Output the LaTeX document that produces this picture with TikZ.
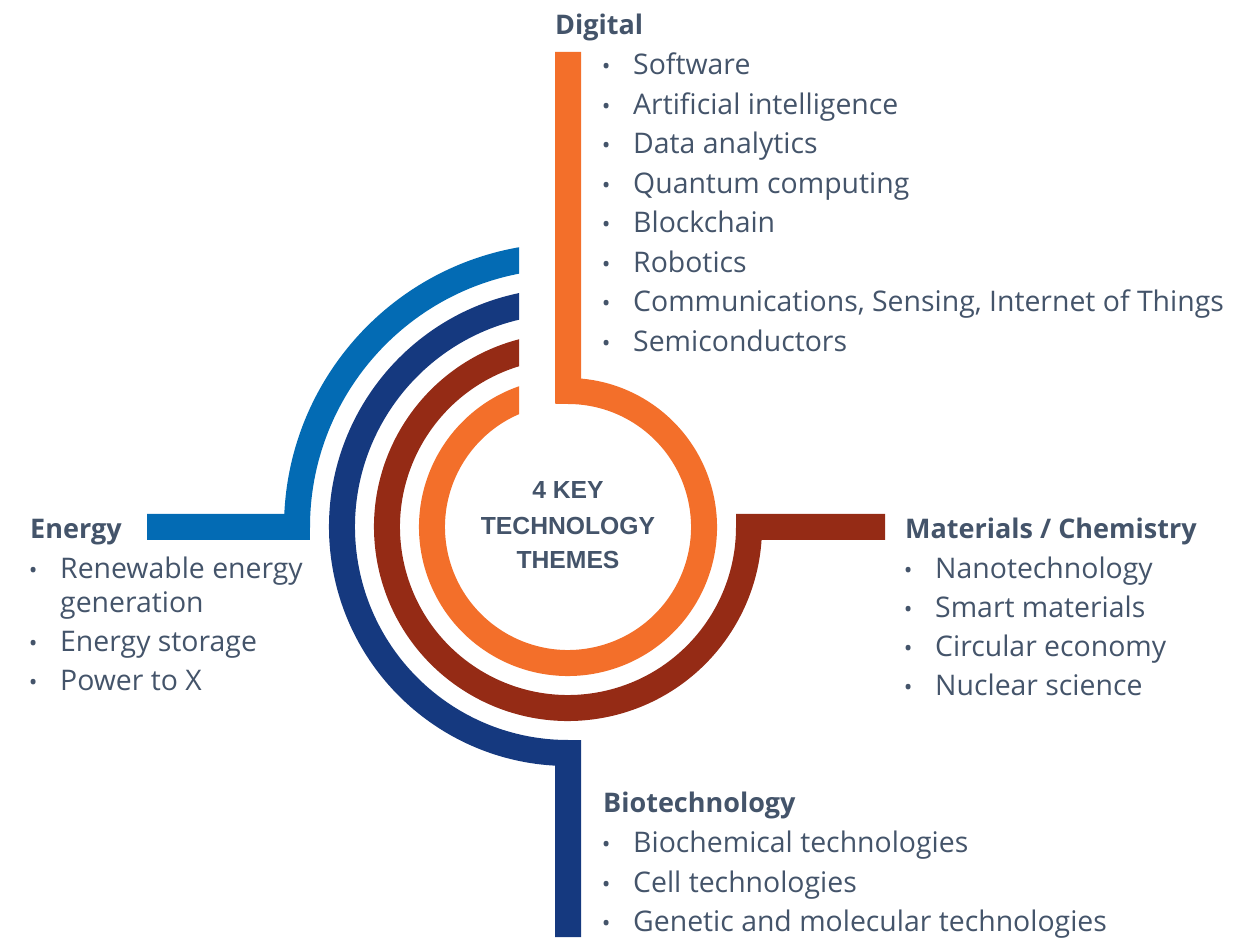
\documentclass[tikz,border=0pt]{standalone}
\usepackage{fontspec}
\setmainfont{Open Sans}
\newfontfamily\themefont{Liberation Sans}
\usetikzlibrary{calc}

\definecolor{digorange}{HTML}{F36F2A}
\definecolor{matred}{HTML}{952B15}
\definecolor{bionavy}{HTML}{15397F}
\definecolor{enblue}{HTML}{036BB4}
\definecolor{themetext}{HTML}{44546A}

\newcommand{\dotitem}{\llap{\makebox[54pt][c]{\fontsize{23}{23}\selectfont •}}}

\tikzset{
    ring/.style={line width=26pt, line join=miter, line cap=butt},
    heading/.style={anchor=base west, inner sep=0pt, text=themetext, font=\fontsize{27}{30}\selectfont\bfseries},
    item/.style={anchor=base west, inner sep=0pt, text=themetext, font=\fontsize{28.4}{30}\selectfont},
    theme/.style={anchor=base, inner sep=0pt, text=themetext, font=\fontsize{24.7}{30}\selectfont\themefont\bfseries}
}

\begin{document}
\begin{tikzpicture}[x=1pt,y=1pt]
    \useasboundingbox (0,0) rectangle (1258,937);

    \coordinate (O) at (568,410);
    \coordinate (digend) at (568,885);
    \coordinate (matend) at (885,410);
    \coordinate (bioend) at (568,0);
    \coordinate (enend) at (147,410);

    % rings, with their top ends cut straight
    \begin{scope}
        \clip (0,0) rectangle (519,937) (555,0) rectangle (1258,937) (0,0) rectangle (1258,480);
        \draw[ring, enblue] ([shift={(98:271)}]O) arc[start angle=98, end angle=180, radius=271] -- (enend);
        \draw[ring, bionavy] ([shift={(100:226)}]O) arc[start angle=100, end angle=270, radius=226] -- (bioend);
        \draw[ring, matred] ([shift={(102:181)}]O) arc[start angle=102, end angle=360, radius=181] -- (matend);
        \draw[ring, digorange] ([shift={(106:136)}]O) arc[start angle=106, end angle=450, radius=136] -- (digend);
    \end{scope}

    % centre
    \node[theme] (title1) at (568,438) {4 KEY};
    \node[theme] (title2) at (568,402) {TECHNOLOGY};
    \node[theme] (title3) at (568,368) {THEMES};

    % Digital
    \node[heading] (dig) at (555,902) {Digital};
    \node[item] (dig1) at (633,862) {\dotitem Software};
    \node[item] (dig2) at (633,822.5) {\dotitem Artificial intelligence};
    \node[item] (dig3) at (633,783) {\dotitem Data analytics};
    \node[item] (dig4) at (633,743.5) {\dotitem Quantum computing};
    \node[item] (dig5) at (633,704) {\dotitem Blockchain};
    \node[item] (dig6) at (633,664.5) {\dotitem Robotics};
    \node[item] (dig7) at (633,625) {\dotitem Communications, Sensing, Internet of Things};
    \node[item] (dig8) at (633,585.5) {\dotitem Semiconductors};

    % Energy
    \node[heading] (en) at (30,398) {Energy};
    \node[item] (en1) at (60,358) {\dotitem Renewable energy};
    \node[item] (en1b) at (60,324) {generation};
    \node[item] (en2) at (60,285) {\dotitem Energy storage};
    \node[item] (en3) at (60,246.5) {\dotitem Power to X};

    % Materials / Chemistry
    \node[heading] (mat) at (905,398) {Materials / Chemistry};
    \node[item] (mat1) at (935,358) {\dotitem Nanotechnology};
    \node[item] (mat2) at (935,319) {\dotitem Smart materials};
    \node[item] (mat3) at (935,280) {\dotitem Circular economy};
    \node[item] (mat4) at (935,241) {\dotitem Nuclear science};

    % Biotechnology
    \node[heading] (bio) at (603,124) {Biotechnology};
    \node[item] (bio1) at (633,84) {\dotitem Biochemical technologies};
    \node[item] (bio2) at (633,45) {\dotitem Cell technologies};
    \node[item] (bio3) at (633,6) {\dotitem Genetic and molecular technologies};
\end{tikzpicture}
\end{document}
